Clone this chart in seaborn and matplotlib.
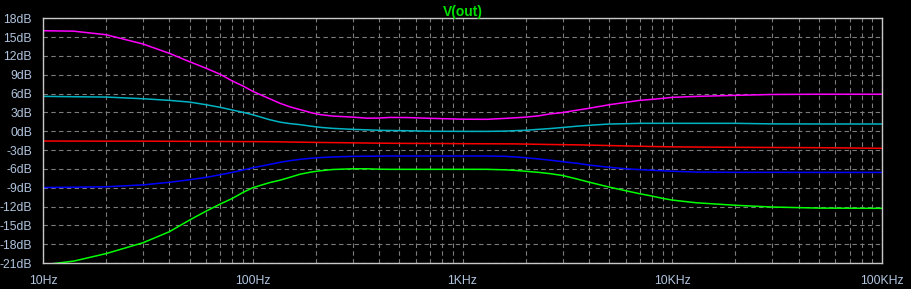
import numpy as np
import pandas as pd
import matplotlib
matplotlib.use("Agg")
import matplotlib.pyplot as plt
from matplotlib.ticker import FixedLocator, LogLocator, NullFormatter
import seaborn as sns

# ---- data ----
freq_hz = [10, 14, 20, 30, 40, 50, 60, 70, 80, 90, 100, 120, 135, 150, 168, 190, 210, 240,
           300, 350, 400, 450, 550, 700, 1000, 1300, 1600, 1800, 2000, 2300, 2600, 3000,
           3500, 4000, 5000, 6000, 7000, 8000, 9000, 10000, 13000, 20000, 30000, 50000, 100000]

trace_magenta = [16.02, 15.95, 15.38, 13.9, 12.42, 11.08, 10.03, 9.07, 8.0, 7.2, 6.36, 5.2, 4.45,
                 3.9, 3.45, 2.95, 2.65, 2.42, 2.25, 2.08, 2.1, 2.2, 2.18, 2.06, 1.92, 1.9, 2.05,
                 2.15, 2.25, 2.45, 2.75, 2.98, 3.35, 3.65, 4.22, 4.6, 4.92, 5.08, 5.24, 5.4, 5.55,
                 5.72, 5.86, 5.9, 5.9]
trace_cyan = [5.56, 5.5, 5.45, 5.18, 4.92, 4.65, 4.22, 3.81, 3.38, 3.01, 2.63, 1.85, 1.45, 1.22,
              1.05, 0.8, 0.62, 0.46, 0.3, 0.22, 0.15, 0.12, 0.08, 0.0, -0.02, -0.02, 0.02, 0.1,
              0.15, 0.3, 0.42, 0.6, 0.8, 0.94, 1.15, 1.2, 1.26, 1.26, 1.26, 1.26, 1.26, 1.26,
              1.17, 1.16, 1.15]
trace_red = [-1.56, -1.57, -1.58, -1.58, -1.6, -1.61, -1.62, -1.63, -1.64, -1.65, -1.65, -1.67,
             -1.69, -1.72, -1.74, -1.77, -1.79, -1.81, -1.85, -1.88, -1.9, -1.92, -1.94, -1.95,
             -1.98, -2.0, -2.01, -2.02, -2.05, -2.08, -2.11, -2.14, -2.17, -2.21, -2.28, -2.34,
             -2.39, -2.43, -2.46, -2.49, -2.52, -2.56, -2.59, -2.62, -2.72]
trace_blue = [-8.97, -8.92, -8.85, -8.55, -8.14, -7.73, -7.35, -6.93, -6.55, -6.18, -5.82, -5.3,
              -4.95, -4.7, -4.48, -4.3, -4.2, -4.1, -4.0, -3.98, -3.96, -3.95, -3.95, -3.95,
              -3.95, -3.95, -4.0, -4.1, -4.22, -4.42, -4.6, -4.85, -5.1, -5.38, -5.75, -5.98,
              -6.12, -6.22, -6.3, -6.38, -6.5, -6.55, -6.55, -6.56, -6.56]
trace_green = [-21.3, -20.7, -19.5, -17.77, -16.02, -14.15, -12.72, -11.6, -10.7, -9.74, -9.0,
               -8.2, -7.8, -7.35, -6.85, -6.5, -6.3, -6.1, -5.98, -5.98, -6.05, -6.07, -6.07,
               -6.07, -6.07, -6.07, -6.15, -6.25, -6.38, -6.55, -6.75, -7.05, -7.6, -8.1, -8.9,
               -9.48, -9.96, -10.33, -10.7, -10.97, -11.4, -11.8, -12.08, -12.25, -12.29]

trace_names = ["green", "blue", "red", "cyan", "magenta"]
trace_colors = ["#00ff00", "#0000ff", "#ff0000", "#00b4c4", "#ff00ff"]

y_ticks = list(range(-21, 19, 3))
y_labels = [f"{v}dB" for v in y_ticks]
x_ticks = [10, 100, 1000, 10000, 100000]
x_labels = ["10Hz", "100Hz", "1KHz", "10KHz", "100KHz"]
title_text = "V(out)"

series = {"green": trace_green, "blue": trace_blue, "red": trace_red,
          "cyan": trace_cyan, "magenta": trace_magenta}
df = pd.concat([pd.DataFrame({"freq": freq_hz, "db": v, "trace": k}) for k, v in series.items()],
               ignore_index=True)

# ---- drawing ----
sns.set_style("dark")
plt.rcParams["font.family"] = ["Liberation Sans", "DejaVu Sans"]

W, H = 911, 289
fig = plt.figure(figsize=(W / 100, H / 100), dpi=100, facecolor="black")
left, right, top, bottom = 43, 882, 18.3, 263
ax = fig.add_axes([left / W, 1 - bottom / H, (right - left) / W, (bottom - top) / H])
ax.set_facecolor("black")

sns.lineplot(data=df, x="freq", y="db", hue="trace", hue_order=trace_names,
             palette=dict(zip(trace_names, trace_colors)), legend=False, ax=ax,
             linewidth=1.1, estimator=None, sort=True)

ax.set_xscale("log")
ax.set_xlim(10, 100000)
ax.set_ylim(-21, 18)

ax.xaxis.set_major_locator(FixedLocator(x_ticks))
ax.set_xticklabels(x_labels)
ax.xaxis.set_minor_locator(LogLocator(base=10, subs=np.arange(2, 10)))
ax.xaxis.set_minor_formatter(NullFormatter())
ax.set_yticks(y_ticks)
ax.set_yticklabels(y_labels)

lab_color = "#b0c4de"
ax.tick_params(axis="y", which="major", direction="out", length=7, width=1,
               color="#c8c8c8", labelcolor=lab_color, labelsize=8.8, pad=1)
ax.tick_params(axis="x", which="both", direction="inout", length=5, width=1,
               color="#c8c8c8", labelcolor=lab_color, labelsize=8.8, pad=6)

grid_kw = dict(color="#7c7c7c", linewidth=0.8, linestyle=(0, (4, 3)))
ax.grid(True, which="major", axis="both", **grid_kw)
ax.grid(True, which="minor", axis="x", **grid_kw)
ax.set_axisbelow(True)

for s in ax.spines.values():
    s.set_color("#c8c8c8")
    s.set_linewidth(1)
    s.set_visible(True)

ax.set_xlabel("")
ax.set_ylabel("")
ax.set_title(title_text, color="#00e000", fontsize=10, fontweight="bold", pad=1.5)

fig.savefig("out.png", dpi=100, facecolor="black")
